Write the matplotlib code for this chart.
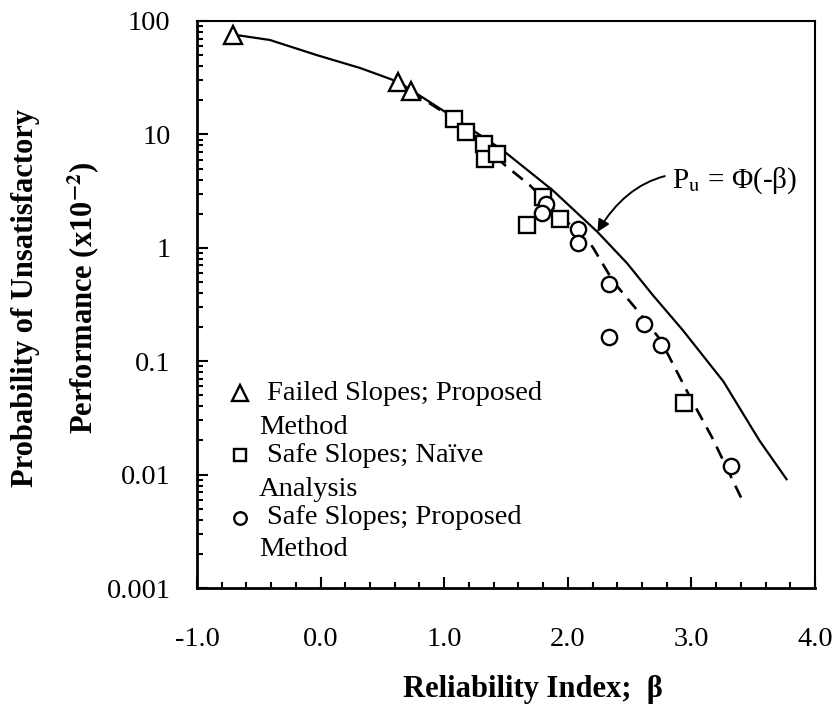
import matplotlib
matplotlib.use("Agg")
import matplotlib.pyplot as plt
from matplotlib.ticker import FixedLocator, FixedFormatter, LogLocator, NullFormatter, MultipleLocator

plt.rcParams['font.family'] = ['Liberation Serif', 'DejaVu Serif']
plt.rcParams['mathtext.fontset'] = 'stix'

# ---- data ----
failed_beta = [-0.71, 0.63, 0.73]
failed_p = [76.0, 29.0, 24.0]

naive_beta = [1.08, 1.18, 1.32, 1.33, 1.43, 1.80, 1.67, 1.94, 2.94]
naive_p = [13.7, 10.5, 8.2, 6.1, 6.7, 2.8, 1.59, 1.79, 0.043]

proposed_beta = [1.82, 1.79, 2.08, 2.08, 2.33, 2.33, 2.62, 2.75, 3.32]
proposed_p = [2.43, 2.03, 1.47, 1.10, 0.48, 0.163, 0.213, 0.139, 0.0119]

theory_beta = [-0.71, -0.41, -0.03, 0.32, 0.63, 1.0, 1.47, 1.88, 2.24, 2.48, 2.69, 2.93, 3.26, 3.55, 3.77]
theory_p = [76.0, 68.0, 50.0, 38.5, 29.0, 16.0, 7.3, 3.2, 1.38, 0.73, 0.38, 0.188, 0.066, 0.020, 0.0091]

fit_beta = [0.73, 1.08, 1.32, 1.49, 1.69, 2.20, 2.37, 2.56, 2.75, 2.99, 3.17, 3.41]
fit_p = [24.0, 13.7, 8.1, 5.37, 3.58, 1.02, 0.50, 0.283, 0.154, 0.048, 0.021, 0.006]

x_ticks = [-1.0, 0.0, 1.0, 2.0, 3.0, 4.0]
x_ticklabels = ["-1.0", "0.0", "1.0", "2.0", "3.0", "4.0"]
y_ticks = [0.001, 0.01, 0.1, 1, 10, 100]
y_ticklabels = ["0.001", "0.01", "0.1", "1", "10", "100"]

legend_labels = [("Failed Slopes; Proposed", "Method"),
                 ("Safe Slopes; Naïve", "Analysis"),
                 ("Safe Slopes; Proposed", "Method")]

# ---- figure ----
W, H = 836, 708
fig = plt.figure(figsize=(W / 100, H / 100), dpi=100)
L, R, T, B = 197, 815, 21, 588
ax = fig.add_axes([L / W, 1 - B / H, (R - L) / W, (B - T) / H])

ax.set_yscale('log')
ax.set_xlim(-1.0, 4.0)
ax.set_ylim(0.001, 100)

ax.plot(theory_beta, theory_p, color='black', lw=1.6, zorder=2)
ax.plot(fit_beta, fit_p, color='black', lw=1.9, dashes=(5.0, 3.2), zorder=2)

mkw = dict(ls='none', mfc='white', mec='black', mew=1.7, zorder=3)
ax.plot(failed_beta, failed_p, marker='^', ms=13, **mkw)
ax.plot(naive_beta, naive_p, marker='s', ms=11, **mkw)
ax.plot(proposed_beta, proposed_p, marker='o', ms=11, **mkw)

# ticks
ax.xaxis.set_major_locator(FixedLocator(x_ticks))
ax.xaxis.set_major_formatter(FixedFormatter(x_ticklabels))
ax.xaxis.set_minor_locator(MultipleLocator(0.2))
ax.yaxis.set_major_locator(FixedLocator(y_ticks))
ax.yaxis.set_major_formatter(FixedFormatter(y_ticklabels))
ax.yaxis.set_minor_locator(LogLocator(base=10, subs=range(2, 10), numticks=20))
ax.yaxis.set_minor_formatter(NullFormatter())
ax.tick_params(axis='both', which='both', direction='in', top=False, right=False, width=1.5)
ax.tick_params(axis='both', which='major', length=8)
ax.tick_params(axis='both', which='minor', length=4.5)
ax.tick_params(axis='x', which='major', labelsize=20.5, pad=28)
ax.tick_params(axis='y', which='major', labelsize=20.5, pad=19)
for s in ['left', 'bottom']:
    ax.spines[s].set_linewidth(2.0)
for s in ['top', 'right']:
    ax.spines[s].set_linewidth(1.5)

# axis labels
fig.text((385 + 680) / 2 / W, 1 - 690 / H, "Reliability Index;  β", ha='center', va='center',
         fontsize=22, fontweight='bold')
fig.text(26 / W, 1 - 298 / H, "Probability of Unsatisfactory", rotation=90, ha='center', va='center',
         fontsize=22, fontweight='bold')
fig.text(84 / W, 1 - 298 / H, r"Performance (x10$^{\mathbf{-2}}$)", rotation=90, ha='center', va='center',
         fontsize=22, fontweight='bold')

# annotation
ax.annotate(r"P$_\mathrm{u}$ = Φ(-β)", xy=(2.24, 1.38), xytext=(2.84, 3.9),
            ha='left', va='center', fontsize=21,
            arrowprops=dict(arrowstyle='-|>', connectionstyle='arc3,rad=0.4', lw=1.4,
                            color='black', shrinkA=3, shrinkB=0, mutation_scale=18))

# manual legend
def ax_x(px):
    return (px - L) / (R - L)

def ax_y(py):
    return (B - py) / (B - T)

rows = [(393, 427), (455, 490), (518, 550)]
markers = [('^', 11), ('s', 9), ('o', 9)]
for (l1, l2), (r1, r2), (m, ms) in zip(legend_labels, rows, markers):
    ax.plot([ax_x(240)], [ax_y(r1)], marker=m, ms=ms, ls='none', mfc='white', mec='black', mew=1.7,
            transform=ax.transAxes, clip_on=False)
    ax.text(ax_x(267), ax_y(r1), l1, transform=ax.transAxes, ha='left', va='center', fontsize=20.5)
    ax.text(ax_x(259), ax_y(r2), l2, transform=ax.transAxes, ha='left', va='center', fontsize=20.5)

fig.savefig("out.png", dpi=100)
